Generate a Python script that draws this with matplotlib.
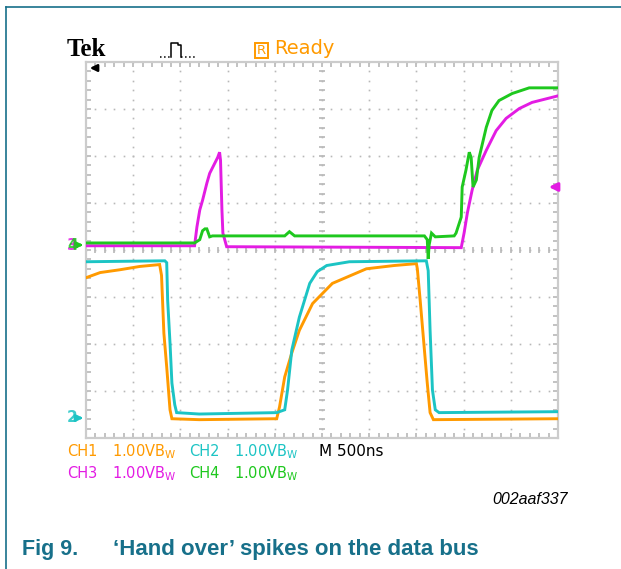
"""Oscilloscope capture: 'Hand over' spikes on the data bus (Fig 9)."""

import matplotlib
matplotlib.use("Agg")
import matplotlib.pyplot as plt
import numpy as np
from matplotlib.lines import Line2D
from matplotlib.patches import Rectangle

W, H = 621, 569

# time in ns (500 ns/div), level in volts (1 V/div)
ch1_t = [0, 150, 360, 570, 780, 800, 825, 855, 890, 910, 1200, 2020, 2050, 2105,
         2180, 2260, 2400, 2610, 2970, 3265, 3500, 3510, 3540, 3585, 3615, 3645,
         3680, 5000]
ch1_v = [2.98, 3.09, 3.15, 3.22, 3.26, 3.03, 1.80, 1.08, 0.17, -0.02, -0.04, -0.02,
         0.23, 0.87, 1.38, 1.86, 2.43, 2.86, 3.17, 3.24, 3.28, 3.17, 2.50, 1.44,
         0.74, 0.11, -0.04, -0.02]

ch2_t = [0, 835, 855, 865, 890, 910, 940, 960, 1200, 2020, 2105, 2135, 2180, 2260,
         2370, 2450, 2550, 2790, 3605, 3625, 3645, 3670, 3700, 3740, 5000]
ch2_v = [3.32, 3.34, 3.30, 2.50, 1.59, 0.74, 0.28, 0.11, 0.08, 0.11, 0.17, 0.59,
         1.44, 2.14, 2.86, 3.11, 3.24, 3.32, 3.34, 3.13, 1.86, 0.59, 0.17, 0.11, 0.13]

ch3_t = [0, 1150, 1175, 1205, 1235, 1280, 1310, 1365, 1395, 1415, 1425, 1440, 1450,
         1490, 3975, 4005, 4040, 4090, 4145, 4240, 4345, 4450, 4590, 4725, 5000]
ch3_v = [-0.02, -0.02, 0.38, 0.74, 0.95, 1.31, 1.52, 1.74, 1.86, 1.97, 1.80, 0.74,
         0.25, -0.04, -0.06, 0.25, 0.68, 1.16, 1.59, 2.01, 2.43, 2.69, 2.90, 3.03, 3.17]

ch4_t = [0, 1150, 1205, 1235, 1260, 1280, 1310, 1340, 2105, 2155, 2210, 3585, 3615,
         3625, 3635, 3660, 3700, 3900, 3920, 3975, 3985, 4025, 4060, 4080, 4100,
         4135, 4165, 4240, 4300, 4375, 4515, 4695, 5000]
ch4_v = [0.04, 0.04, 0.11, 0.30, 0.34, 0.34, 0.17, 0.19, 0.19, 0.28, 0.19, 0.19, 0.11,
         -0.30, 0.0, 0.25, 0.17, 0.19, 0.25, 0.59, 1.23, 1.59, 1.97, 1.86, 1.23,
         1.38, 1.86, 2.50, 2.86, 3.07, 3.22, 3.34, 3.34]

# ground reference of each channel, in divisions from the bottom of the screen
ch_ground = [0.43, 0.43, 4.11, 4.11]
ch_names = ["CH1", "CH2", "CH3", "CH4"]
ch_scale = ["1.00V", "1.00V", "1.00V", "1.00V"]
timebase = "M 500ns"

COLORS = ["#ff9a00", "#1cc4c4", "#e31ce3", "#1ec81e"]
TEAL = "#17708a"
GRID = "#b8b8b8"
SCOPE_FONT = ["Liberation Sans Narrow", "DejaVu Sans"]


def px(x, y):
    """Image pixel (origin top-left) -> figure fraction."""
    return x / W, 1 - y / H


fig = plt.figure(figsize=(W / 100, H / 100), dpi=100)

# frame lines of the datasheet figure box
fig.add_artist(Line2D([6 / W, 1], [1 - 7 / H] * 2, color=TEAL, lw=1.2))
fig.add_artist(Line2D([6 / W] * 2, [0, 1 - 7 / H], color=TEAL, lw=1.2))

left, right, top, bottom = 86, 558, 62, 438
ax = fig.add_axes([left / W, 1 - bottom / H, (right - left) / W, (bottom - top) / H])
ax.set_xlim(0, 5000)
ax.set_ylim(0, 8)

# graticule: dotted division lines, ticked border and centre cross
sub_x = np.arange(0, 5001, 100)
sub_y = np.arange(0, 8.01, 0.2)
for gx in range(500, 5000, 500):
    ax.plot([gx] * len(sub_y), sub_y, "s", ms=1.2, color=GRID, mew=0, zorder=1)
for gy in range(1, 8):
    ax.plot(sub_x, [gy] * len(sub_x), "s", ms=1.2, color=GRID, mew=0, zorder=1)
ax.plot(sub_x, [4] * len(sub_x), "|", ms=4, color=GRID, mew=1.2, zorder=1)
ax.plot([2500] * len(sub_y), sub_y, "_", ms=4, color=GRID, mew=1.2, zorder=1)

ax.set_xticks(sub_x)
ax.set_yticks(sub_y)
ax.set_xticklabels([])
ax.set_yticklabels([])
ax.tick_params(direction="in", length=3.5, width=1.2, color=GRID,
               top=True, right=True)
for sp in ax.spines.values():
    sp.set_color("#cccccc")
    sp.set_linewidth(1.6)

traces = [(ch1_t, ch1_v), (ch2_t, ch2_v), (ch3_t, ch3_v), (ch4_t, ch4_v)]
for (t, v), g, c in zip(traces, ch_ground, COLORS):
    ax.plot(t, np.array(v) + g, color=c, lw=2.1, solid_joinstyle="miter", zorder=3)

# channel ground markers on the left
for label, c, y in [("3", COLORS[2], 246), ("4", COLORS[3], 245), ("2", COLORS[1], 418)]:
    fig.text(*px(67, y), label, color=c, fontsize=11, fontweight="bold",
             family=SCOPE_FONT, va="center", ha="left", alpha=0.85)
for c, y in [(COLORS[3], 245), (COLORS[1], 418)]:
    ax.annotate("", xy=(left, H - y), xytext=(left - 10, H - y),
                xycoords="figure pixels", textcoords="figure pixels",
                arrowprops=dict(arrowstyle="-|>", color=c, lw=1.8, mutation_scale=10),
                annotation_clip=False)

# trigger position (top left) and trigger level (right)
ax.annotate("", xy=(87, H - 68), xytext=(100, H - 68),
            xycoords="figure pixels", textcoords="figure pixels",
            arrowprops=dict(arrowstyle="-|>", color="black", lw=1.8, mutation_scale=10))
ax.annotate("", xy=(546, H - 187), xytext=(560, H - 187),
            xycoords="figure pixels", textcoords="figure pixels",
            arrowprops=dict(arrowstyle="-|>", color=COLORS[2], lw=2.2, mutation_scale=12),
            annotation_clip=False)

# header
fig.text(*px(67, 50), "Tek", fontsize=18, fontweight="bold", family="Liberation Serif",
         va="center", ha="left")
pulse_x = [171, 171, 178, 178, 181, 181]
pulse_y = [57, 43, 43, 45, 45, 57]
fig.add_artist(Line2D([x / W for x in pulse_x], [1 - y / H for y in pulse_y],
                      color="black", lw=1.1))
fig.add_artist(Line2D([160 / W, 171 / W], [1 - 57 / H] * 2, color="black",
                      lw=1.1, ls=":"))
fig.add_artist(Line2D([181 / W, 195 / W], [1 - 57 / H] * 2, color="black",
                      lw=1.1, ls=":"))
fig.add_artist(Rectangle(px(255, 58), 13 / W, 15 / H, fill=False, ec=COLORS[0], lw=1.4))
fig.text(*px(261.5, 50.5), "R", color=COLORS[0], fontsize=9.5, family=SCOPE_FONT,
         va="center", ha="center")
fig.text(*px(274, 49), "Ready", color=COLORS[0], fontsize=14, family=SCOPE_FONT,
         va="center", ha="left")

# channel settings readout
rows = [(452, 0, 1), (474, 2, 3)]
for y, a, b in rows:
    for i, x0 in [(a, 67), (b, 189)]:
        fig.text(*px(x0, y), ch_names[i], color=COLORS[i], fontsize=10.5,
                 family=SCOPE_FONT, va="center", ha="left")
        fig.text(*px(x0 + 45, y), ch_scale[i] + r"B$_\mathregular{W}$", color=COLORS[i],
                 fontsize=10.5, family=SCOPE_FONT, va="center", ha="left")
fig.text(*px(319, 452), timebase, color="black", fontsize=11, family=SCOPE_FONT,
         va="center", ha="left")

fig.text(*px(568, 500), "002aaf337", fontsize=11.5, style="italic",
         family="Liberation Sans", va="center", ha="right")
fig.text(*px(22, 549), "Fig 9.", fontsize=15.5, fontweight="bold",
         family="Liberation Sans", color=TEAL, va="center", ha="left")
fig.text(*px(113, 549), "\u2018Hand over\u2019 spikes on the data bus", fontsize=16,
         fontweight="bold", family="Liberation Sans", color=TEAL, va="center", ha="left")

fig.savefig("out.png", dpi=100)
plt.close(fig)
